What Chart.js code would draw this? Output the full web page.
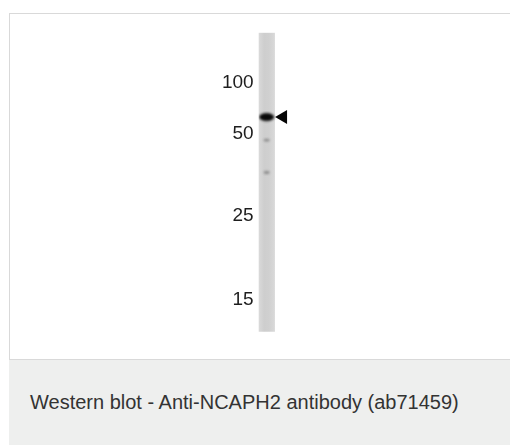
<!DOCTYPE html>
<html>
<head>
<meta charset="utf-8">
<script src="https://cdn.jsdelivr.net/npm/chart.js@4.4.1/dist/chart.umd.min.js"></script>
<style>
  html, body { margin: 0; padding: 0; background: #fff; overflow: hidden; }
  #frame { position: absolute; left: 9px; top: 13px; width: 520px; height: 347px; box-sizing: border-box; border: 1px solid #d9d9d9; background: #fff; }
  #caption { position: absolute; left: 9px; top: 360px; width: 510px; height: 85px; background: #eeefee; }
  #caption span { position: absolute; left: 21px; top: 30.5px; font: 20px "Liberation Sans", Arial, sans-serif; line-height: 23px; color: #333; white-space: nowrap; }
  #blot { position: absolute; left: 0; top: 0; }
</style>
</head>
<body>
<div id="frame"></div>
<div id="caption"><span>Western blot - Anti-NCAPH2 antibody (ab71459)</span></div>
<canvas id="blot" width="510" height="445"></canvas>
<script>
// relative migration down the lane, 0 = top of gel, 100 = bottom
const markerLabels = ['100', '50', '25', '15'];
const markerPos = [16.7, 33.8, 61.2, 89.4];
const lanes = [1];
const bandPos = [28.2, 35.9, 46.7];
const bandAlpha = [1, 0.45, 0.5];
const targetBand = 28.2;

function bandImage(w, h, color, blur) {
    const c = document.createElement('canvas');
    c.width = Math.ceil(w + blur * 6);
    c.height = Math.ceil(h + blur * 6);
    const g = c.getContext('2d');
    g.filter = 'blur(' + blur + 'px)';
    g.fillStyle = color;
    g.beginPath();
    g.ellipse(c.width / 2, c.height / 2, w / 2, h / 2, 0, 0, Math.PI * 2);
    g.fill();
    return c;
}
const bandStyles = bandPos.map((v, i) => i === 0
    ? bandImage(15, 8, 'rgba(8,8,8,' + bandAlpha[i] + ')', 0.8)
    : bandImage(6, 3, 'rgba(70,70,70,' + bandAlpha[i] + ')', 0.8));

const ctx = document.getElementById('blot').getContext('2d');
new Chart(ctx, {
    type: 'bar',
    data: {
        datasets: [
            {
                type: 'scatter',
                label: 'bands',
                data: bandPos.map(v => ({ x: lanes[0], y: v })),
                pointStyle: bandStyles,
                pointRadius: 6,
                order: 1
            },
            {
                type: 'scatter',
                label: 'arrow',
                data: [{ x: lanes[0] + 1.03, y: targetBand }],
                pointStyle: 'triangle',
                rotation: -90,
                pointRadius: 8,
                backgroundColor: '#050505',
                borderWidth: 0,
                order: 0
            },
            {
                label: 'lane',
                data: lanes.map(l => ({ x: l, y: [0, 100] })),
                barThickness: 16,
                backgroundColor: (c) => {
                    const a = c.chart.chartArea;
                    if (!a) return '#d2d2d2';
                    const x0 = c.chart.scales.x.getPixelForValue(lanes[0]);
                    const gr = c.chart.ctx.createLinearGradient(x0 - 8, 0, x0 + 8, 0);
                    gr.addColorStop(0, '#dadada');
                    gr.addColorStop(0.35, '#cecece');
                    gr.addColorStop(0.65, '#d0d0d0');
                    gr.addColorStop(1, '#d9d9d9');
                    return gr;
                },
                borderWidth: 0,
                order: 2
            }
        ]
    },
    options: {
        responsive: false,
        animation: false,
        layout: { padding: { top: 32.7, bottom: 113.3, right: 211.4, left: 0 } },
        scales: {
            x: { type: 'linear', min: 0.5, max: 3, offset: false, display: false },
            y: {
                type: 'linear', min: 0, max: 100, reverse: true,
                grid: { display: false, drawTicks: false },
                border: { display: false },
                afterFit: (s) => { s.width = 258.6; },
                afterBuildTicks: (s) => { s.ticks = markerPos.map(v => ({ value: v })); },
                ticks: {
                    autoSkip: false,
                    padding: 5,
                    color: '#1e1e1e',
                    font: { family: '"Liberation Sans", Arial, sans-serif', size: 19 },
                    callback: (v, i) => markerLabels[i]
                }
            }
        },
        plugins: {
            legend: { display: false },
            tooltip: { enabled: false }
        }
    }
});
</script>
</body>
</html>
